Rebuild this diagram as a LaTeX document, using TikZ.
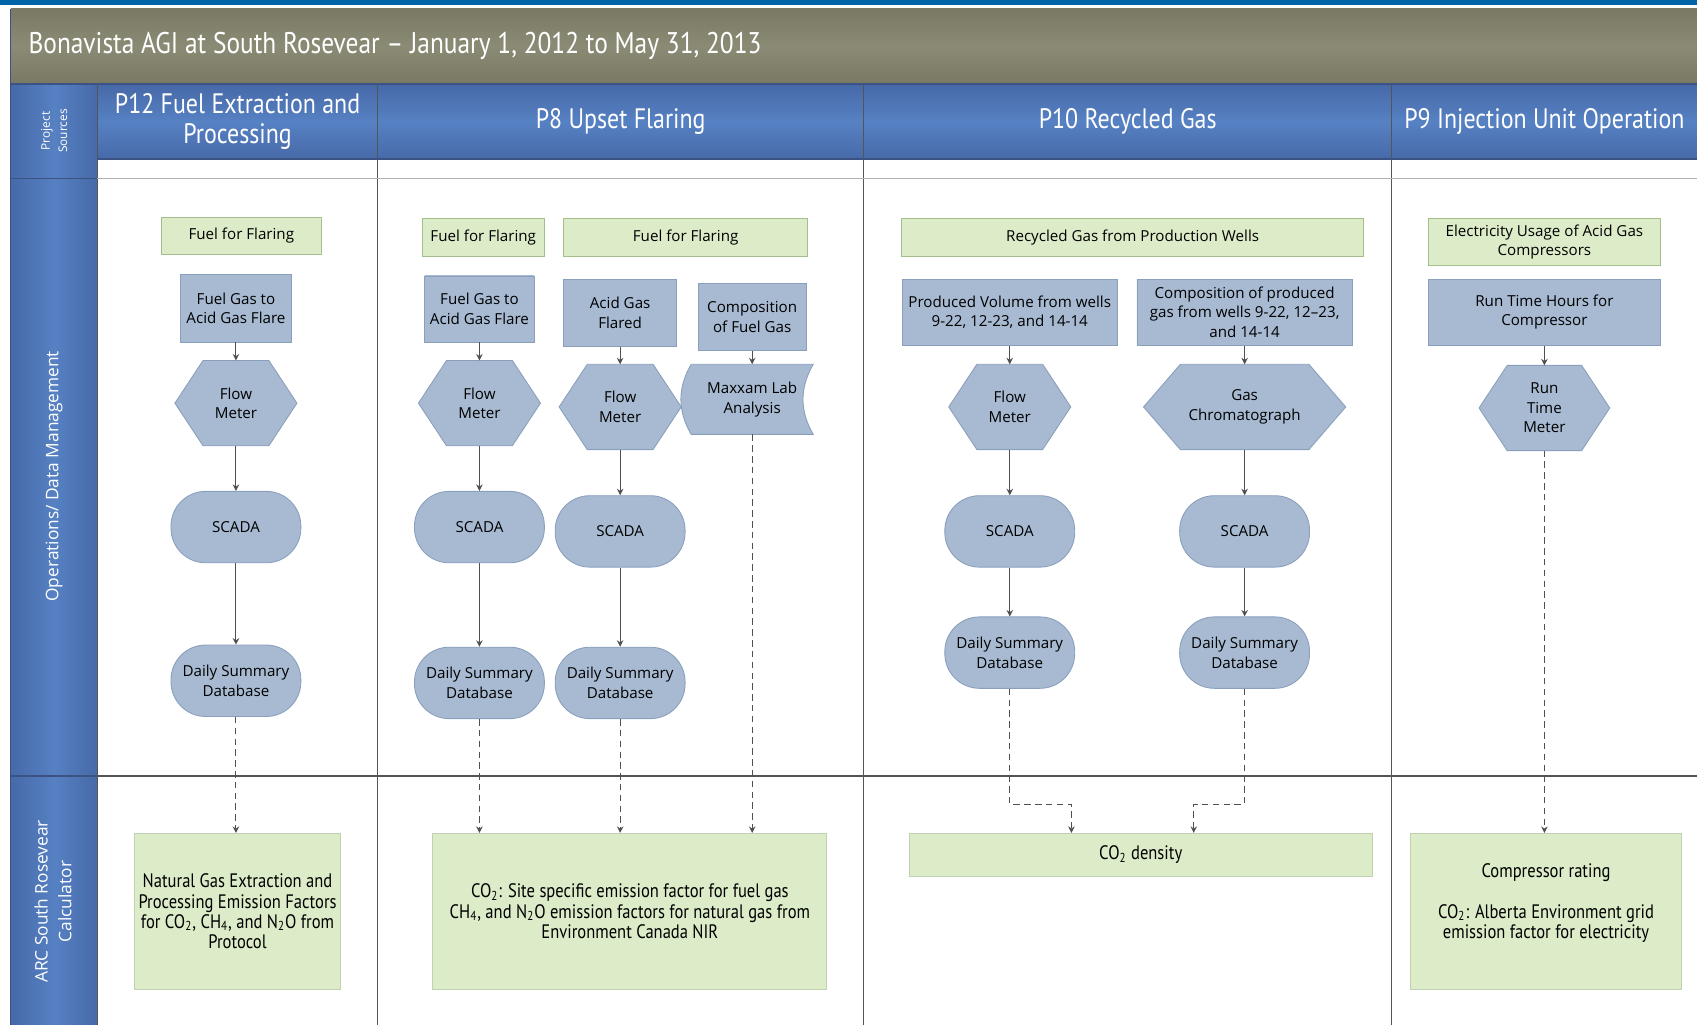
\documentclass[tikz,border=0pt]{standalone}
\usepackage{fontspec}
\setmainfont{Open Sans}
\newfontfamily\condfont{PT Sans}[FakeStretch=0.85]
\usepackage{tikz}
\usetikzlibrary{arrows.meta}
\usetikzlibrary{backgrounds}

\definecolor{topblue}{HTML}{0065A8}
\definecolor{oliveedge}{HTML}{7A7A64}
\definecolor{olivemid}{HTML}{8B8B75}
\definecolor{headedge}{HTML}{4769A8}
\definecolor{headmid}{HTML}{5681C3}
\definecolor{headline}{HTML}{3C5282}
\definecolor{boxgreen}{HTML}{DCEBC8}
\definecolor{greenline}{HTML}{A4BE8E}
\definecolor{nodeedge}{HTML}{A7BAD2}
\definecolor{nodemid}{HTML}{C0D0E1}
\definecolor{nodeline}{HTML}{8A9FBC}
\definecolor{gridline}{HTML}{555555}
\definecolor{arrowgrey}{HTML}{505050}

\newcommand{\hexoutline}[2]{
    \begin{scope}[on background layer]
        \draw[bluebox] (#1.west) -- ([xshift=#2]#1.north west) -- ([xshift=-#2]#1.north east) -- (#1.east) -- ([xshift=-#2]#1.south east) -- ([xshift=#2]#1.south west) -- cycle;
    \end{scope}
}

\tikzstyle{every node}=[font=\fontsize{7}{9}\selectfont]
\tikzstyle{greenbox}=[draw=greenline, fill=boxgreen, align=center, inner sep=1pt]
\tikzstyle{calcbox}=[greenbox, draw=greenline!70, font=\condfont\fontsize{9}{9.3}\selectfont]
\tikzstyle{bluebox}=[draw=nodeline, top color=nodeedge, middle color=nodemid, bottom color=nodeedge, align=center, inner sep=1pt]
\tikzstyle{meter}=[align=center, minimum width=56pt, minimum height=39pt, inner sep=1pt]
\tikzstyle{stadium}=[bluebox, rounded corners=16pt, minimum width=60pt, minimum height=33pt]
\tikzstyle{labnode}=[align=center, minimum width=56pt, minimum height=32pt, inner sep=1pt]
\tikzstyle{header}=[text=white, align=center, font=\condfont\fontsize{13}{14}\selectfont]
\tikzstyle{sidelabel}=[text=white, align=center, rotate=90, font=\fontsize{8}{10}\selectfont]
\tikzstyle{flow}=[draw=arrowgrey, line width=0.5pt, -{Stealth[length=3pt,width=3pt]}]
\tikzstyle{feed}=[flow, dash pattern=on 3pt off 2pt]
\tikzstyle{lane}=[draw=gridline, line width=0.6pt]

\begin{document}
\begin{tikzpicture}[x=0.5pt,y=-0.5pt]
        \useasboundingbox (0,0) rectangle (1568,947);

        \fill[topblue] (0,0) rectangle (1568,5);
        \shade[top color=oliveedge, bottom color=oliveedge, middle color=olivemid] (10,8) rectangle (1568,77);
        \shade[top color=headedge, bottom color=headedge, middle color=headmid] (90,78) rectangle (1568,147);
        \shade[left color=headedge, right color=headedge, middle color=headmid] (10,78) rectangle (90,947);

        \foreach \x in {90,349,798,1286}
            \draw[lane] (\x,78) -- (\x,947);
        \draw[lane, headline] (10,77.5) -- (1568,77.5);
        \draw[lane, headline] (90,147) -- (1568,147);
        \draw[lane, gray!60] (90,165) -- (1568,165);
        \draw[lane] (90,717) -- (1568,717);
        \draw[lane, headline] (10,165) -- (90,165);
        \draw[lane, headline] (10,717) -- (90,717);
        \draw[lane, headline] (10,8) -- (10,947);

        \node[anchor=west, inner sep=0pt, text=white, font=\condfont\fontsize{13.8}{15}\selectfont] (title) at (26,42) {Bonavista AGI at South Rosevear – January 1, 2012 to May 31, 2013};

        \node[header] (h12) at (219.5,112) {P12 Fuel Extraction and\\Processing};
        \node[header] (h8) at (573.5,112) {P8 Upset Flaring};
        \node[header] (h10) at (1042,112) {P10 Recycled Gas};
        \node[header] (h9) at (1427,112) {P9 Injection Unit Operation};

        \node[sidelabel, font=\fontsize{5.5}{8}\selectfont] (src) at (50,121) {Project\\Sources};
        \node[sidelabel] (ops) at (50,440) {Operations/ Data Management};
        \node[sidelabel, font=\fontsize{8}{11}\selectfont] (arc) at (49,833) {ARC South Rosevear\\Calculator};

        \node[greenbox, minimum width=74pt, minimum height=17pt] (ff1) at (223,218) {Fuel for Flaring};
        \node[greenbox, minimum width=56.5pt, minimum height=17.5pt] (ff2) at (446.5,219.5) {Fuel for Flaring};
        \node[greenbox, minimum width=112.5pt, minimum height=17.5pt] (ff3) at (633.5,219.5) {Fuel for Flaring};
        \node[greenbox, minimum width=213.5pt, minimum height=17.5pt] (rgw) at (1046.5,219.5) {Recycled Gas from Production Wells};
        \node[greenbox, minimum width=107pt, minimum height=21.5pt] (elec) at (1427,223.5) {Electricity Usage of Acid Gas\\Compressors};

        \node[bluebox, minimum width=51pt, minimum height=31pt] (fg1) at (218,285) {Fuel Gas to\\Acid Gas Flare};
        \node[bluebox, minimum width=50.5pt, minimum height=30.5pt] (fg2) at (443,285.5) {Fuel Gas to\\Acid Gas Flare};
        \node[bluebox, minimum width=52pt, minimum height=31pt] (ag) at (573,289) {Acid Gas\\Flared};
        \node[bluebox, minimum width=50pt, minimum height=31pt] (comp) at (695,293) {Composition\\of Fuel Gas};
        \node[bluebox, minimum width=99.5pt, minimum height=30.5pt] (pv) at (933,288.5) {Produced Volume from wells\\9-22, 12-23, and 14-14};
        \node[bluebox, minimum width=99.5pt, minimum height=30.5pt] (cpg) at (1150,288.5) {Composition of produced\\gas from wells 9-22, 12–23,\\and 14-14};
        \node[bluebox, minimum width=107pt, minimum height=30.5pt] (rth) at (1427,288.5) {Run Time Hours for\\Compressor};

        \node[meter] (fm1) at (218,372.5) {Flow\\Meter};
        \node[meter] (fm2) at (443,372.5) {Flow\\Meter};
        \node[meter] (fm3) at (573,376) {Flow\\Meter};
        \node[labnode] (lab) at (695,369) {Maxxam Lab\\Analysis};
        \node[meter] (fm4) at (933,376) {Flow\\Meter};
        \node[meter, minimum width=93pt] (gc) at (1150,376) {Gas\\Chromatograph};
        \node[meter, minimum width=60pt] (rtm) at (1427,377) {Run\\Time\\Meter};

        \hexoutline{fm1}{13pt}
        \hexoutline{fm2}{13pt}
        \hexoutline{fm3}{13pt}
        \hexoutline{fm4}{13pt}
        \hexoutline{gc}{17pt}
        \hexoutline{rtm}{13pt}
        \begin{scope}[on background layer]
            \draw[bluebox] (lab.north west) to[bend right=30] (lab.south west) -- (lab.south east) to[bend left=30] (lab.north east) -- cycle;
        \end{scope}

        \node[stadium] (sc1) at (218,487) {SCADA};
        \node[stadium] (sc2) at (443,487) {SCADA};
        \node[stadium] (sc3) at (573,491) {SCADA};
        \node[stadium] (sc4) at (933,491) {SCADA};
        \node[stadium] (sc5) at (1150,491) {SCADA};

        \node[stadium] (db1) at (218,629) {Daily Summary\\Database};
        \node[stadium] (db2) at (443,631) {Daily Summary\\Database};
        \node[stadium] (db3) at (573,631) {Daily Summary\\Database};
        \node[stadium] (db4) at (933,603) {Daily Summary\\Database};
        \node[stadium] (db5) at (1150,603) {Daily Summary\\Database};

        \node[calcbox, minimum width=95.5pt, minimum height=72pt] (nat) at (219.5,842) {Natural Gas Extraction and\\Processing Emission Factors\\for CO\textsubscript{2}, CH\textsubscript{4}, and N\textsubscript{2}O from\\Protocol};
        \node[calcbox, minimum width=182pt, minimum height=72pt] (ef) at (582,842) {CO\textsubscript{2}: Site specific emission factor for fuel gas\\CH\textsubscript{4}, and N\textsubscript{2}O emission factors for natural gas from\\Environment Canada NIR};
        \node[calcbox, minimum width=214pt, minimum height=20pt] (dens) at (1054,790) {CO\textsubscript{2} density};
        \node[calcbox, minimum width=125.5pt, minimum height=72pt] (rate) at (1428.5,842) {Compressor rating\\[9.3pt]CO\textsubscript{2}: Alberta Environment grid\\emission factor for electricity\\\mbox{}};

        \coordinate (k4) at (990,743);
        \coordinate (k5) at (1103,743);

        \draw[flow] (fg1) -- (fm1);
        \draw[flow] (fm1) -- (sc1);
        \draw[flow] (sc1) -- (db1);
        \draw[feed] (db1) -- (db1 |- nat.north);

        \draw[flow] (fg2) -- (fm2);
        \draw[flow] (fm2) -- (sc2);
        \draw[flow] (sc2) -- (db2);
        \draw[feed] (db2) -- (db2 |- ef.north);
        \draw[flow] (ag) -- (fm3);
        \draw[flow] (fm3) -- (sc3);
        \draw[flow] (sc3) -- (db3);
        \draw[feed] (db3) -- (db3 |- ef.north);
        \draw[flow] (comp) -- (lab);
        \draw[feed] (lab) -- (lab |- ef.north);

        \draw[flow] (pv) -- (fm4);
        \draw[flow] (fm4) -- (sc4);
        \draw[flow] (sc4) -- (db4);
        \draw[feed] (db4) |- (k4) -- (k4 |- dens.north);
        \draw[flow] (cpg) -- (gc);
        \draw[flow] (gc) -- (sc5);
        \draw[flow] (sc5) -- (db5);
        \draw[feed] (db5) |- (k5) -- (k5 |- dens.north);

        \draw[flow] (rth) -- (rtm);
        \draw[feed] (rtm) -- (rtm |- rate.north);
\end{tikzpicture}
\end{document}
